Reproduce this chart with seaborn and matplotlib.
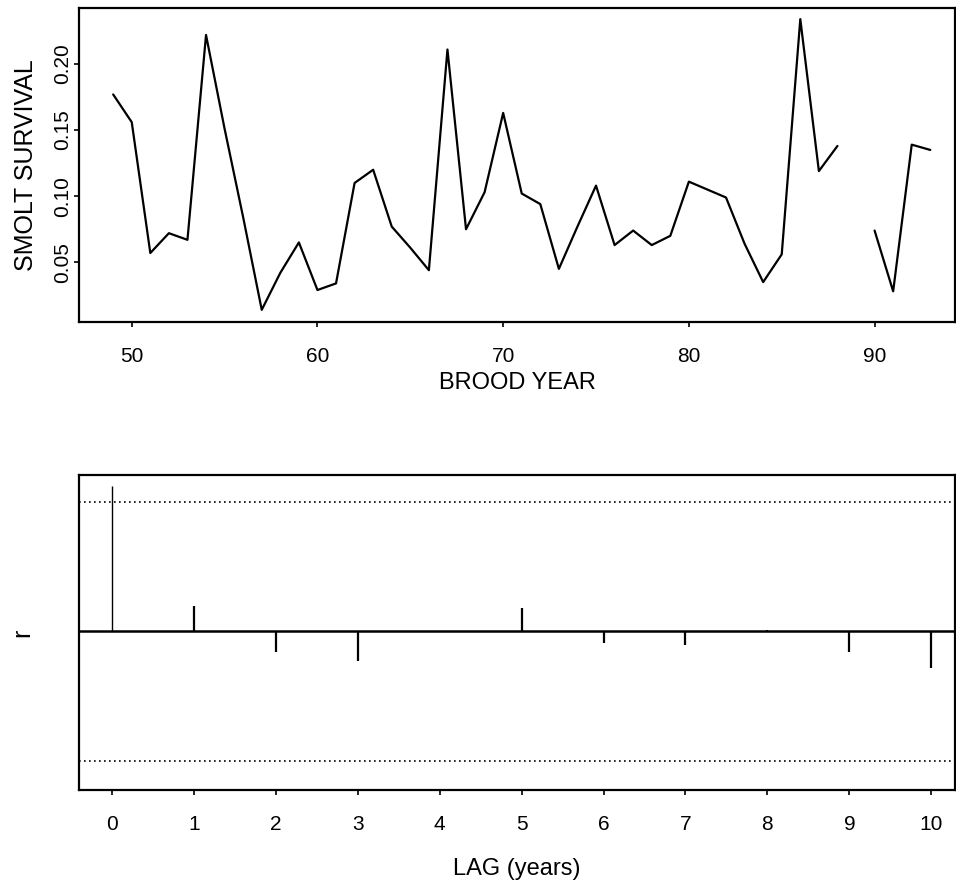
import numpy as np
import pandas as pd
import matplotlib
matplotlib.use("Agg")
import matplotlib.pyplot as plt
import seaborn as sns

# ---- data ----
brood_year = list(range(49, 94))
survival = [0.177, 0.156, 0.057, 0.072, 0.067, 0.222, 0.151, 0.084, 0.014,
            0.042, 0.065, 0.029, 0.034, 0.110, 0.120, 0.077, 0.061, 0.044,
            0.211, 0.075, 0.103, 0.163, 0.102, 0.094, 0.045, 0.077, 0.108,
            0.063, 0.074, 0.063, 0.070, 0.111, 0.105, 0.099, 0.064, 0.035,
            0.056, 0.234, 0.119, 0.138, np.nan, 0.074, 0.028, 0.139, 0.135]
lags = list(range(0, 11))
acf_r = [1.0, 0.179, -0.140, -0.204, 0.004, 0.165, -0.080, -0.094, 0.012, -0.140, -0.252]
conf_bound = 0.89

top_xticks = [50, 60, 70, 80, 90]
top_yticks = [0.05, 0.10, 0.15, 0.20]

sns.set_theme(style="ticks")
plt.rcParams['font.family'] = ['Liberation Sans', 'DejaVu Sans']
plt.rcParams['text.color'] = 'black'
plt.rcParams['axes.labelcolor'] = 'black'

fig = plt.figure(figsize=(9.56, 8.92), dpi=100)
W, H = 956, 892

def axes_px(l, t, r, b):
    return fig.add_axes([l / W, 1 - b / H, (r - l) / W, (b - t) / H])

ax1 = axes_px(79, 8, 955, 322)
ax2 = axes_px(79, 475, 955, 790)

# ---- top: time series with a gap ----
df = pd.DataFrame({"year": brood_year, "surv": survival})
df["seg"] = df["surv"].isna().cumsum()
df = df.dropna()
sns.lineplot(data=df, x="year", y="surv", units="seg", estimator=None,
             color="black", linewidth=1.6, ax=ax1)
ax1.set_xlim(47.16, 94.33)
ax1.set_ylim(0.0048, 0.2424)
ax1.set_xticks(top_xticks)
ax1.set_xticklabels([str(v) for v in top_xticks])
ax1.set_yticks(top_yticks)
ax1.set_yticklabels([f"{v:.2f}" for v in top_yticks], rotation=90, va="center")
ax1.set_xlabel("BROOD YEAR", fontsize=17, labelpad=4.5, color="black")
ax1.set_ylabel("SMOLT SURVIVAL", fontsize=18, labelpad=11, color="black")

# ---- bottom: autocorrelation ----
widths = [1.0] + [1.6] * (len(lags) - 1)
ax2.vlines(lags, 0, acf_r, color="black", linewidth=widths)
ax2.axhline(0, color="black", linewidth=1.8)
ax2.axhline(conf_bound, color="black", linewidth=1.2, linestyle=(0, (1, 2)))
ax2.axhline(-conf_bound, color="black", linewidth=1.2, linestyle=(0, (1, 2)))
ax2.set_xlim(-0.403, 10.29)
ax2.set_ylim(-1.092, 1.078)
ax2.set_xticks(lags)
ax2.set_xticklabels([str(v) for v in lags])
ax2.set_yticks([])
ax2.set_xlabel("LAG (years)", fontsize=17, labelpad=17, color="black")
ax2.set_ylabel("r", fontsize=18, labelpad=32, color="black")

for ax in (ax1, ax2):
    for s in ax.spines.values():
        s.set_visible(True)
        s.set_linewidth(1.6)
        s.set_color("black")
    ax.tick_params(axis="both", which="both", direction="out", length=3.6,
                   width=1.2, color="black", labelsize=15, labelcolor="black",
                   bottom=True, left=True, top=False, right=False)
    ax.tick_params(axis="x", pad=14.5)
    ax.tick_params(axis="y", pad=1.5)
    ax.set_facecolor("white")

fig.savefig("out.png", dpi=100, facecolor="white")
